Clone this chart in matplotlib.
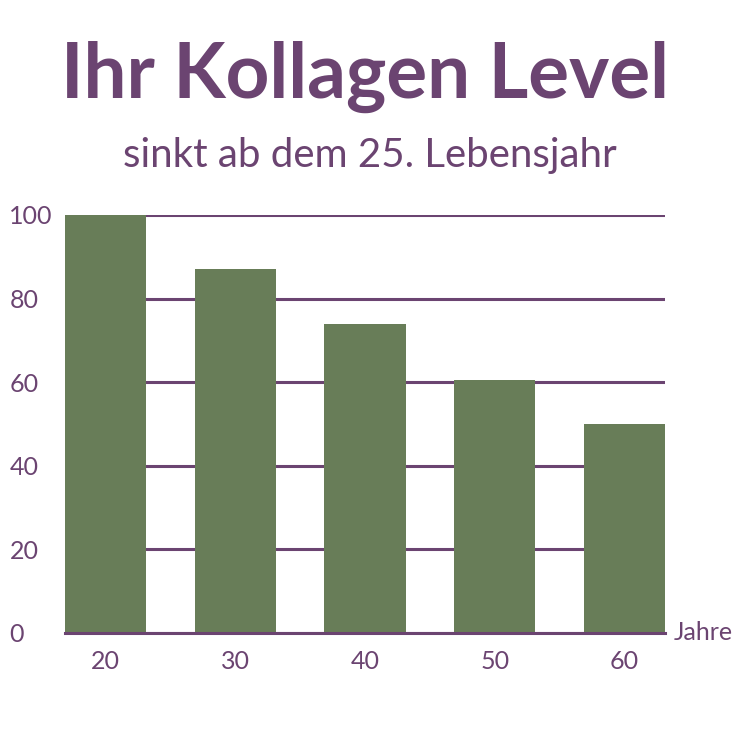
import matplotlib
matplotlib.use("Agg")
import matplotlib.pyplot as plt

ages = ["20", "30", "40", "50", "60"]
values = [100, 87, 74, 60.5, 50]
yticks = [0, 20, 40, 60, 80, 100]

purple = "#6b4471"
green = "#687d58"

plt.rcParams['font.family'] = ['Lato', 'DejaVu Sans']

fig = plt.figure(figsize=(7.5, 7.5), dpi=100)
ax = fig.add_axes([65/750, 1-633/750, 600/750, (633-215)/750])

x = list(range(len(ages)))
ax.bar(x, values, width=0.625, color=green, zorder=3)
ax.set_xlim(-0.3125, len(ages) - 1 + 0.3125)
ax.set_ylim(0, 100)
ax.set_yticks(yticks)
ax.set_xticks(x)
ax.set_xticklabels(ages)
ax.yaxis.grid(True, color=purple, linewidth=2.2, zorder=1)
ax.set_axisbelow(True)
for s in ["top", "right", "left"]:
    ax.spines[s].set_visible(False)
ax.spines["bottom"].set_color(purple)
ax.spines["bottom"].set_linewidth(2.2)
ax.spines["bottom"].set_zorder(4)
ax.tick_params(axis="both", length=0, labelsize=18, labelcolor=purple)
ax.tick_params(axis="x", pad=12)
ax.tick_params(axis="y", pad=40)
for lbl in ax.get_yticklabels():
    lbl.set_horizontalalignment("left")

ax.text(1.015, 0, "Jahre", transform=ax.transAxes, ha="left", va="center",
        fontsize=18, color=purple)

fig.text(0.487, 0.898, "Ihr Kollagen Level", ha="center", va="center",
         fontsize=55, fontweight="bold", color=purple)
fig.text(0.493, 0.793, "sinkt ab dem 25. Lebensjahr", ha="center", va="center",
         fontsize=29, color=purple)

fig.savefig("out.png", dpi=100, facecolor="white")
